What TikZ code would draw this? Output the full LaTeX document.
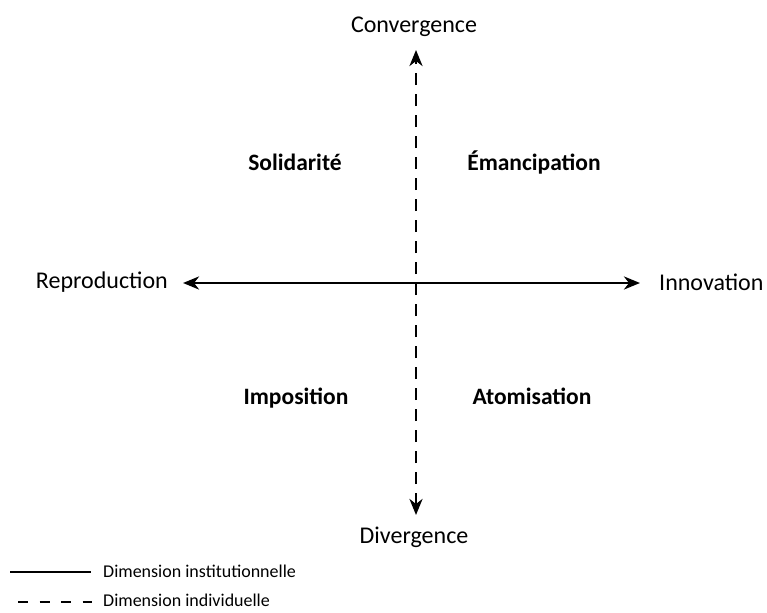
\documentclass[tikz,border=0pt]{standalone}
\usepackage{fontspec}
\setmainfont{Carlito}
\usetikzlibrary{arrows.meta,positioning}

\begin{document}
\begin{tikzpicture}[x=1pt,y=-1pt,
    axis/.style={line width=2.8pt,{Stealth[length=16pt,width=13pt,inset=5pt]}-{Stealth[length=16pt,width=13pt,inset=5pt]}},
    dimdash/.style={dash pattern=on 12pt off 9pt},
    lab/.style={font=\fontsize{24}{28}\selectfont,inner sep=0pt},
    quad/.style={font=\fontsize{23.5}{27}\selectfont\bfseries,inner sep=0pt,anchor=base},
    legtext/.style={font=\fontsize{18}{20}\selectfont,inner sep=0pt,anchor=west}]
    \useasboundingbox (0,0) rectangle (767,612);
    % axis ends
    \coordinate (W) at (183,283);
    \coordinate (E) at (640,283);
    \coordinate (N) at (416,50);
    \coordinate (S) at (416,515);
    \draw[axis] (W)--(E);
    \draw[axis,dimdash] (S)--(N);
    % axis labels
    \node[lab,anchor=east] (repro) at (168,282) {Reproduction};
    \node[lab,anchor=west] (innov) at (659,282) {Innovation};
    \node[lab] (conv) at (414,27) {Convergence};
    \node[lab] (div) at (414,537) {Divergence};
    % quadrants
    \node[quad] (sol) at (295,171) {Solidarité};
    \node[quad] (eman) at (534,171) {Émancipation};
    \node[quad] (impo) at (296,404) {Imposition};
    \node[quad] (atom) at (532,404) {Atomisation};
    % legend
    \coordinate (L1a) at (10,572);
    \coordinate (L1b) at (91,572);
    \coordinate (L2a) at (18,602);
    \coordinate (L2b) at (92,602);
    \draw[line width=2.4pt] (L1a)--(L1b);
    \draw[line width=2.4pt,dash pattern=on 10pt off 11.5pt] (L2a)--(L2b);
    \node[legtext] (leginst) at (103,571) {Dimension institutionnelle};
    \node[legtext] (legind) at (103,600) {Dimension individuelle};
\end{tikzpicture}
\end{document}
